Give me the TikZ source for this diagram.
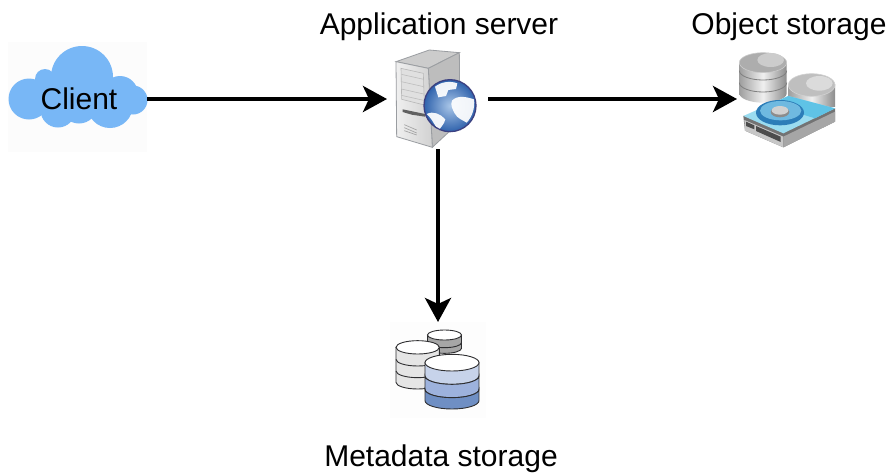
\documentclass[tikz,border=0pt]{standalone}
\usepackage{fontspec}
\setmainfont{Liberation Sans}
\usetikzlibrary{arrows.meta}
\definecolor{cloudblue}{HTML}{78B7F6}
\definecolor{srvline}{HTML}{9A9DA1}
\definecolor{navy}{HTML}{3C4080}
\definecolor{cylline}{HTML}{2E2E30}
\definecolor{blueA}{HTML}{C7D3EA}
\definecolor{blueB}{HTML}{9DB2DD}
\definecolor{blueC}{HTML}{6F8FC4}
\definecolor{seaIn}{HTML}{A9C6E8}
\definecolor{seaOut}{HTML}{2F62AC}
\definecolor{diskTop}{HTML}{9ADCF0}
\definecolor{diskTopB}{HTML}{5FC3E6}
\definecolor{platOut}{HTML}{2C7DB8}
\definecolor{platIn}{HTML}{6FB9E0}
\tikzset{
  label text/.style={font=\fontsize{30}{34}\selectfont,text=black,inner sep=0pt},
  anchor box/.style={draw=none,fill=none,inner sep=0pt,outer sep=0pt},
  flow/.style={line width=4pt,-{Stealth[length=24pt,width=26pt,inset=6pt]}},
  cyl/.style={draw=cylline,line width=.9pt},
  metal/.style={draw=none,left color=black!38,right color=black!45,middle color=black!6},
  zoomed/.style={shift={#1},x=0.3333pt,y=-0.3333pt}
}
% \mycyl{cx}{rx}{ytop}{ry}{ybottom}{fill}
\newcommand{\mycyl}[6]{%
  \path[cyl,fill=#6] (#1-#2,#3) -- (#1-#2,#5) arc[start angle=180,end angle=0,x radius=#2,y radius=#4] -- (#1+#2,#3) -- cycle;
}
\newcommand{\myband}[5]{%
  \draw[#5] (#1-#2,#3) arc[start angle=180,end angle=0,x radius=#2,y radius=#4];
}
\begin{document}
\begin{tikzpicture}[x=1pt,y=-1pt]
\useasboundingbox (0,0) rectangle (890,472);
\fill[white] (0,0) rectangle (890,472);
% faint backgrounds of the icons
\fill[black!1] (8,42) rectangle (147,152);
\fill[black!0.8] (390,322) rectangle (486,418);

% ---------- cloud
\fill[cloudblue] (82,77) circle[radius=31];
\fill[cloudblue] (29,99) circle[radius=20.5];
\fill[cloudblue] (45,79) circle[radius=10];
\fill[cloudblue] (133,100) circle[radius=14.5];
\fill[cloudblue] (110,105) circle[radius=23];
\fill[cloudblue] (120,94) circle[radius=18];
\fill[cloudblue] (58,110) circle[radius=17.5];
\fill[cloudblue] (79,105) circle[radius=18.5];
\fill[cloudblue] (35,85) rectangle (125,112);

% ---------- application server
\begin{scope}[zoomed={(370,40)}]
  \path[draw=srvline,line width=.8pt,fill=black!20] (78,65) -- (178,30) -- (268,38) -- (175,85) -- cycle;
  \path[draw=srvline,line width=.8pt,fill=black!26] (175,85) -- (268,38) -- (270,245) -- (187,322) -- cycle;
  \path[draw=srvline,line width=.8pt,left color=black!6,right color=black!18] (78,65) -- (175,85) -- (187,322) -- (80,290) -- cycle;
  \draw[black!28,fill=black!12,line width=.6pt] (93,85) -- (160,100) -- (163,195) -- (95,178) -- cycle;
  \foreach \a/\b in {103/118,125/140,147/162,166/181}
    \draw[black!26,line width=.6pt] (94,\a) -- (161,\b);
  \fill[black!62] (98,208) -- (165,222) -- (165,230) -- (125,224) -- (98,216) -- cycle;
  \foreach \a/\b in {254/270,263/279,272/285}
    \draw[black!35,line width=.7pt] (103,\a) -- (140,\b);
  % globe
  \shade[inner color=seaIn,outer color=seaOut] (240,197) circle[radius=78];
  \fill[white,opacity=.93]
    (195,140) .. controls (215,125) and (240,122) .. (262,130) -- (258,147) -- (235,150) -- (228,168) -- (205,172) -- cycle
    (170,222) .. controls (190,212) and (212,222) .. (226,238) .. controls (222,255) and (212,260) .. (207,270) .. controls (195,262) and (190,240) .. (170,222) -- cycle
    (246,182) .. controls (262,165) and (288,170) .. (312,178) .. controls (316,205) and (305,232) .. (290,248) .. controls (278,240) and (262,236) .. (254,220) .. controls (248,208) and (240,195) .. (246,182) -- cycle;
  \draw[navy,line width=1.3pt] (240,197) circle[radius=78];
\end{scope}
\node[anchor box,minimum width=101pt,minimum height=100pt] (server) at (437.5,99) {};

% ---------- object storage
\begin{scope}[zoomed={(720,40)}]
  % left cylinder
  \path[metal] (58,68) -- (58,160) arc[start angle=180,end angle=0,x radius=71,y radius=28] -- (200,68) -- cycle;
  \myband{129}{71}{92}{28}{black!50,line width=.8pt}
  \myband{129}{71}{128}{28}{black!50,line width=.8pt}
  \draw[black!20,line width=.6pt,fill=black!32] (129,68) ellipse[x radius=71,y radius=30];
  \fill[black!20] (152,60) ellipse[x radius=40,y radius=21];
  % right cylinder
  \path[metal] (205,135) -- (205,200) -- (345,200) -- (345,135) -- cycle;
  \draw[black!18,line width=.6pt,fill=black!25] (275,135) ellipse[x radius=70,y radius=34];
  \fill[black!14] (298,130) ellipse[x radius=40,y radius=22];
  % disk
  \fill[black!55] (70,228) -- (75,272) -- (190,322) -- (345,245) -- (345,205) -- cycle;
  \fill[black!22] (73,240) -- (190,290) -- (190,322) -- (75,272) -- cycle;
  \fill[black!35] (190,290) -- (345,215) -- (345,245) -- (190,322) -- cycle;
  \fill[black!70] (78,245) -- (103,256) -- (103,268) -- (78,258) -- cycle;
  \fill[black!70] (108,258) -- (182,290) -- (182,306) -- (108,273) -- cycle;
  \fill[diskTop] (70,228) -- (205,168) -- (345,205) -- (190,280) -- cycle;
  \fill[diskTopB] (205,168) -- (345,205) -- (285,235) -- (150,193) -- cycle;
  \fill[platOut] (180,218) ellipse[x radius=72,y radius=38];
  \fill[platIn] (182,212) ellipse[x radius=62,y radius=29];
  \fill[black!45] (180,216) ellipse[x radius=28,y radius=16];
  \fill[black!18] (180,211) ellipse[x radius=25,y radius=13];
\end{scope}
\node[anchor box,minimum width=101pt,minimum height=94pt] (object) at (787.5,99) {};

% ---------- metadata storage
\begin{scope}[zoomed={(380,290)}]
  % dark grey
  \mycyl{193.5}{51}{135}{15}{175}{black!35}
  \myband{193.5}{51}{158}{15}{cyl}
  \draw[cyl,fill=white] (193.5,135) ellipse[x radius=51,y radius=15];
  % light grey
  \mycyl{113}{65}{172}{20}{277}{black!10}
  \myband{113}{65}{208}{20}{cyl}
  \myband{113}{65}{243}{20}{cyl}
  \draw[cyl,fill=white] (113,172) ellipse[x radius=65,y radius=20];
  % blue
  \path[cyl,fill=blueA] (135,218) -- (135,258) arc[start angle=180,end angle=0,x radius=81,y radius=25] -- (297,218) -- cycle;
  \path[cyl,fill=blueB] (135,258) arc[start angle=180,end angle=0,x radius=81,y radius=25] -- (297,298) arc[start angle=0,end angle=180,x radius=81,y radius=25] -- cycle;
  \path[cyl,fill=blueC] (135,298) arc[start angle=180,end angle=0,x radius=81,y radius=25] -- (297,332) arc[start angle=0,end angle=180,x radius=81,y radius=25] -- cycle;
  \draw[cyl,fill=white] (216,218) ellipse[x radius=81,y radius=25];
\end{scope}

% ---------- named nodes and connectors
\node[anchor box,minimum width=139pt,minimum height=104pt] (client) at (77.5,99) {};
\node[label text] (clientlabel) at (79,99) {Client};
\node[anchor box,minimum width=86pt,minimum height=94pt] (meta) at (438,369) {};
\node[label text] (serverlabel) at (439,27) {Application server};
\node[label text] (objectlabel) at (789,27) {Object storage};
\node[label text] (metalabel) at (441,459) {Metadata storage};

\draw[flow] (client.east) -- (server.west);
\draw[flow] (server.east) -- (object.west);
\draw[flow] (server.south) ++(0.5,0) -- (meta.north);
\end{tikzpicture}
\end{document}
